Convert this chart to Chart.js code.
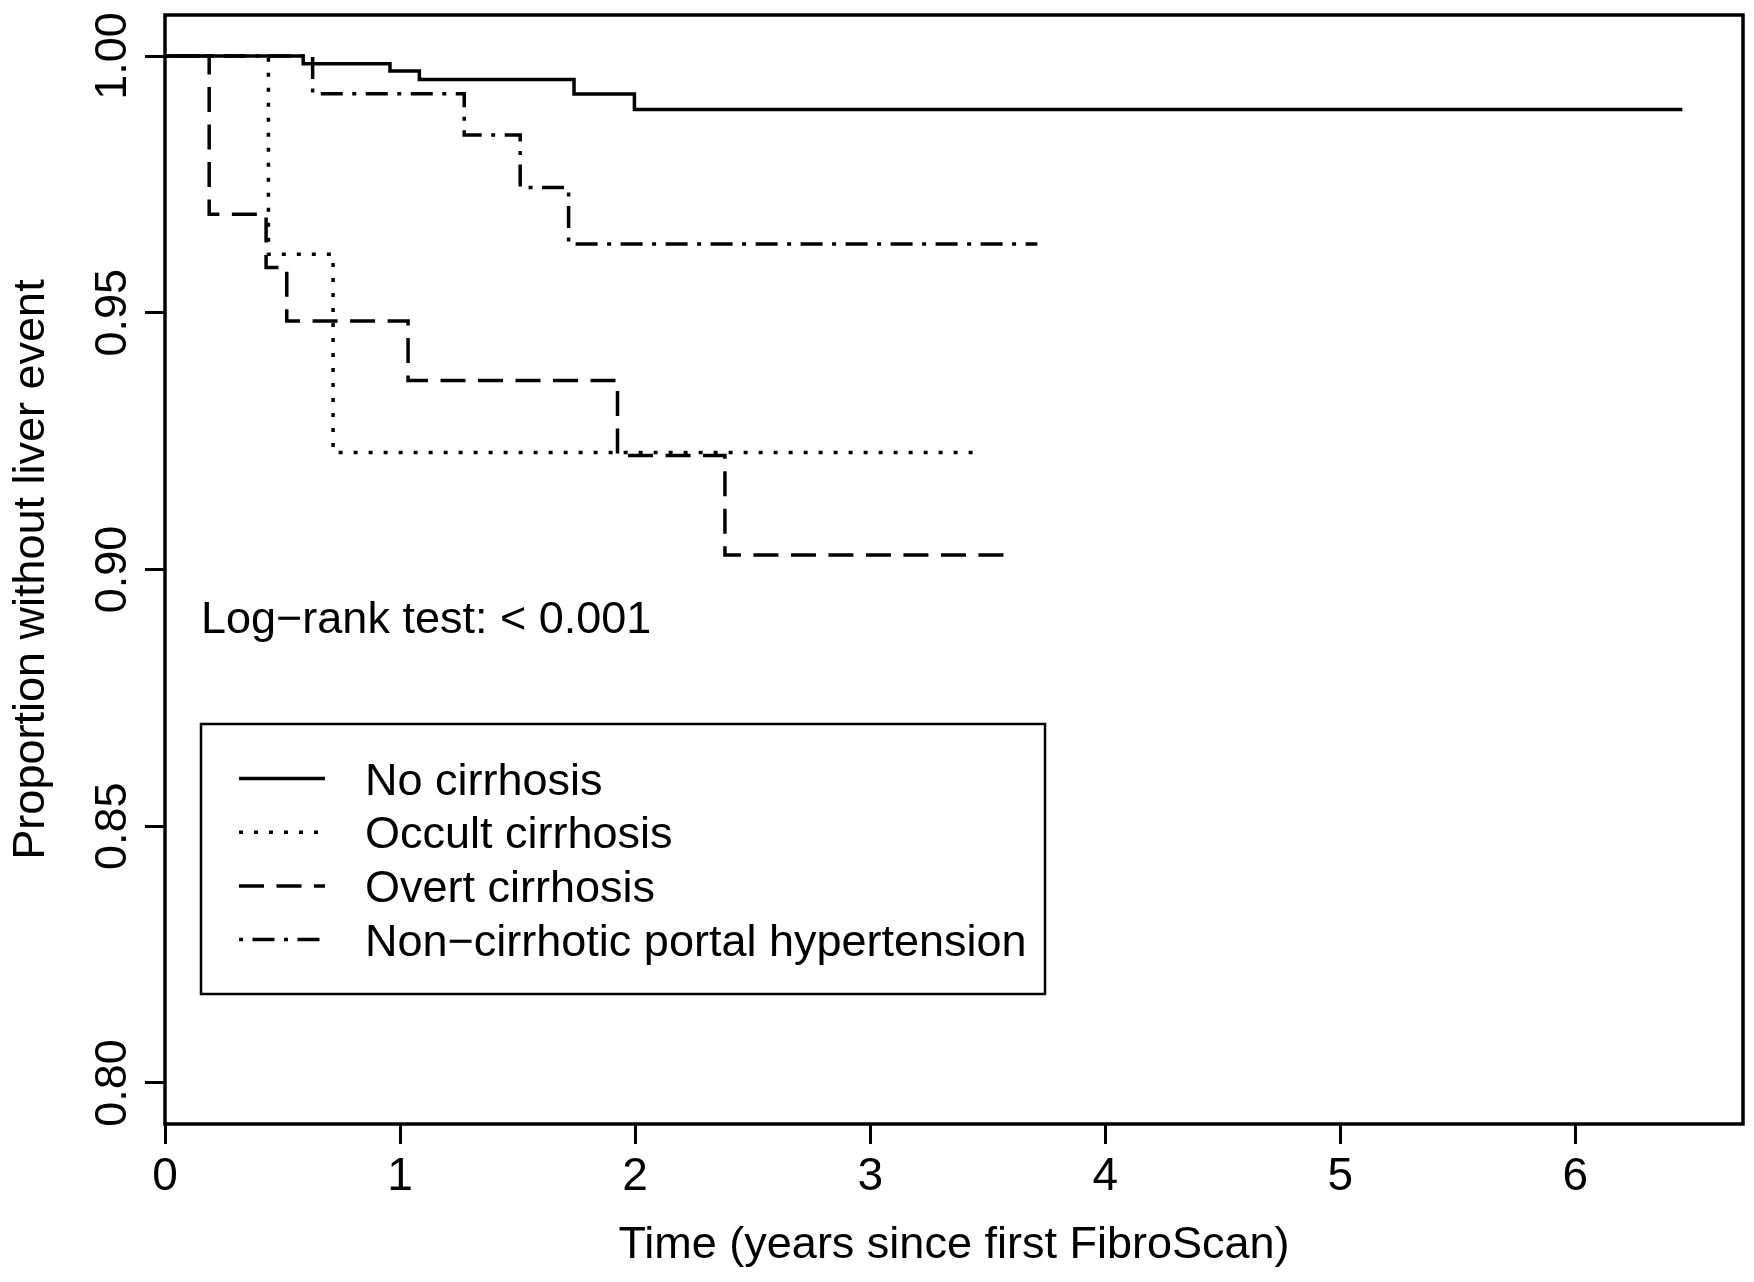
<!DOCTYPE html>
<html>
<head>
<meta charset="utf-8">
<script src="https://cdn.jsdelivr.net/npm/chart.js@4.4.1/dist/chart.umd.min.js"></script>
<style>
  html, body { margin: 0; padding: 0; background: #ffffff; }
  canvas { display: block; }
</style>
</head>
<body>
<canvas id="km" width="1754" height="1282"></canvas>
<script>
// ---------------- data ----------------
const seriesLabels = ['No cirrhosis', 'Occult cirrhosis', 'Overt cirrhosis', 'Non\u2212cirrhotic portal hypertension'];

const noCirrhosisTime = [0, 0.588, 0.957, 1.082, 1.740, 1.997, 6.455];
const noCirrhosisSurv = [1.0, 0.9985, 0.9971, 0.99545, 0.9926, 0.9896, 0.9896];

const occultTime = [0, 0.440, 0.715, 3.438];
const occultSurv = [1.0, 0.9614, 0.9228, 0.9228];

const overtTime = [0, 0.188, 0.430, 0.518, 1.034, 1.925, 2.382, 3.578];
const overtSurv = [1.0, 0.9692, 0.9588, 0.9484, 0.9368, 0.9222, 0.9028, 0.9028];

const ncphTime = [0, 0.628, 1.273, 1.511, 1.717, 3.711];
const ncphSurv = [1.0, 0.99265, 0.98465, 0.9744, 0.9634, 0.9634];

const xTicks = [0, 1, 2, 3, 4, 5, 6];
const xTickLabels = ['0', '1', '2', '3', '4', '5', '6'];
const yTicks = [0.80, 0.85, 0.90, 0.95, 1.00];
const yTickLabels = ['0.80', '0.85', '0.90', '0.95', '1.00'];

const xTitle = 'Time (years since first FibroScan)';
const yTitle = 'Proportion without liver event';
const logRankText = 'Log\u2212rank test: < 0.001';

// ---------------- styling ----------------
const FONT_FAMILY = '"Liberation Sans", Arial, Helvetica, sans-serif';
const FONT_SIZE = 45;
const dashPatterns = [[], [4, 11], [25, 12.5], [4, 9.5, 22, 9.5]];

function toPoints(t, s) { return t.map((v, i) => ({ x: v, y: s[i] })); }
const seriesTimes = [noCirrhosisTime, occultTime, overtTime, ncphTime];
const seriesSurvs = [noCirrhosisSurv, occultSurv, overtSurv, ncphSurv];

const datasets = seriesLabels.map((lab, i) => ({
  label: lab,
  data: toPoints(seriesTimes[i], seriesSurvs[i]),
  showLine: true,
  stepped: true,
  borderColor: '#000000',
  backgroundColor: '#000000',
  borderWidth: 3.5,
  borderDash: dashPatterns[i],
  pointRadius: 0,
  pointHoverRadius: 0,
  fill: false
}));

// frame, annotation, legend
const decorPlugin = {
  id: 'decor',
  afterDraw(chart) {
    const ctx = chart.ctx;
    const a = chart.chartArea;
    ctx.save();
    // plot box
    ctx.strokeStyle = '#000';
    ctx.lineWidth = 3.5;
    ctx.setLineDash([]);
    ctx.strokeRect(a.left, a.top, a.right - a.left, a.bottom - a.top);

    ctx.fillStyle = '#000';
    ctx.font = FONT_SIZE + 'px ' + FONT_FAMILY;
    ctx.textAlign = 'left';
    ctx.textBaseline = 'alphabetic';
    // log-rank annotation
    ctx.fillText(logRankText, 201, 633);

    // legend box
    ctx.lineWidth = 2.5;
    ctx.strokeRect(201, 724, 1045 - 201, 994 - 724);
    const base0 = 794.5, step = 53.7;
    chart.data.datasets.forEach((ds, i) => {
      const yb = base0 + i * step;
      const yl = yb - 16;
      ctx.beginPath();
      ctx.lineWidth = ds.borderWidth;
      ctx.setLineDash(ds.borderDash || []);
      ctx.moveTo(239, yl);
      ctx.lineTo(325, yl);
      ctx.stroke();
      ctx.setLineDash([]);
      ctx.fillText(ds.label, 365, yb);
    });
    ctx.restore();
  }
};

new Chart(document.getElementById('km'), {
  type: 'scatter',
  data: { datasets },
  options: {
    responsive: false,
    animation: false,
    devicePixelRatio: 1,
    layout: { padding: { left: 0, top: 14, right: 11, bottom: 0 } },
    plugins: { legend: { display: false }, tooltip: { enabled: false } },
    scales: {
      x: {
        type: 'linear',
        min: 0,
        max: 6.713,
        afterBuildTicks: s => { s.ticks = xTicks.map(v => ({ value: v })); },
        afterFit: s => { s.height = 158; },
        border: { display: false },
        grid: {
          display: true,
          drawOnChartArea: false,
          drawTicks: true,
          tickLength: 20,
          tickWidth: 3,
          tickColor: '#000',
          color: '#000'
        },
        ticks: {
          color: '#000',
          font: { family: FONT_FAMILY, size: 46 },
          padding: 6,
          maxRotation: 0,
          minRotation: 0,
          autoSkip: false,
          callback: (v, i) => xTickLabels[i]
        },
        title: {
          display: true,
          text: xTitle,
          color: '#000',
          font: { family: FONT_FAMILY, size: FONT_SIZE },
          padding: { top: 0, bottom: 9 }
        }
      },
      y: {
        type: 'linear',
        min: 0.792,
        max: 1.008,
        afterBuildTicks: s => { s.ticks = yTicks.map(v => ({ value: v })); },
        afterFit: s => { s.width = 165; },
        border: { display: false },
        grid: {
          display: true,
          drawOnChartArea: false,
          drawTicks: true,
          tickLength: 20,
          tickWidth: 3,
          tickColor: '#000',
          color: '#000'
        },
        ticks: {
          color: '#000',
          font: { family: FONT_FAMILY, size: FONT_SIZE },
          minRotation: 90,
          maxRotation: 90,
          crossAlign: 'center',
          padding: -12,
          autoSkip: false,
          callback: (v, i) => yTickLabels[i]
        },
        title: {
          display: true,
          text: yTitle,
          color: '#000',
          font: { family: FONT_FAMILY, size: FONT_SIZE },
          padding: { top: 5, bottom: 0 }
        }
      }
    }
  },
  plugins: [decorPlugin]
});
</script>
</body>
</html>
